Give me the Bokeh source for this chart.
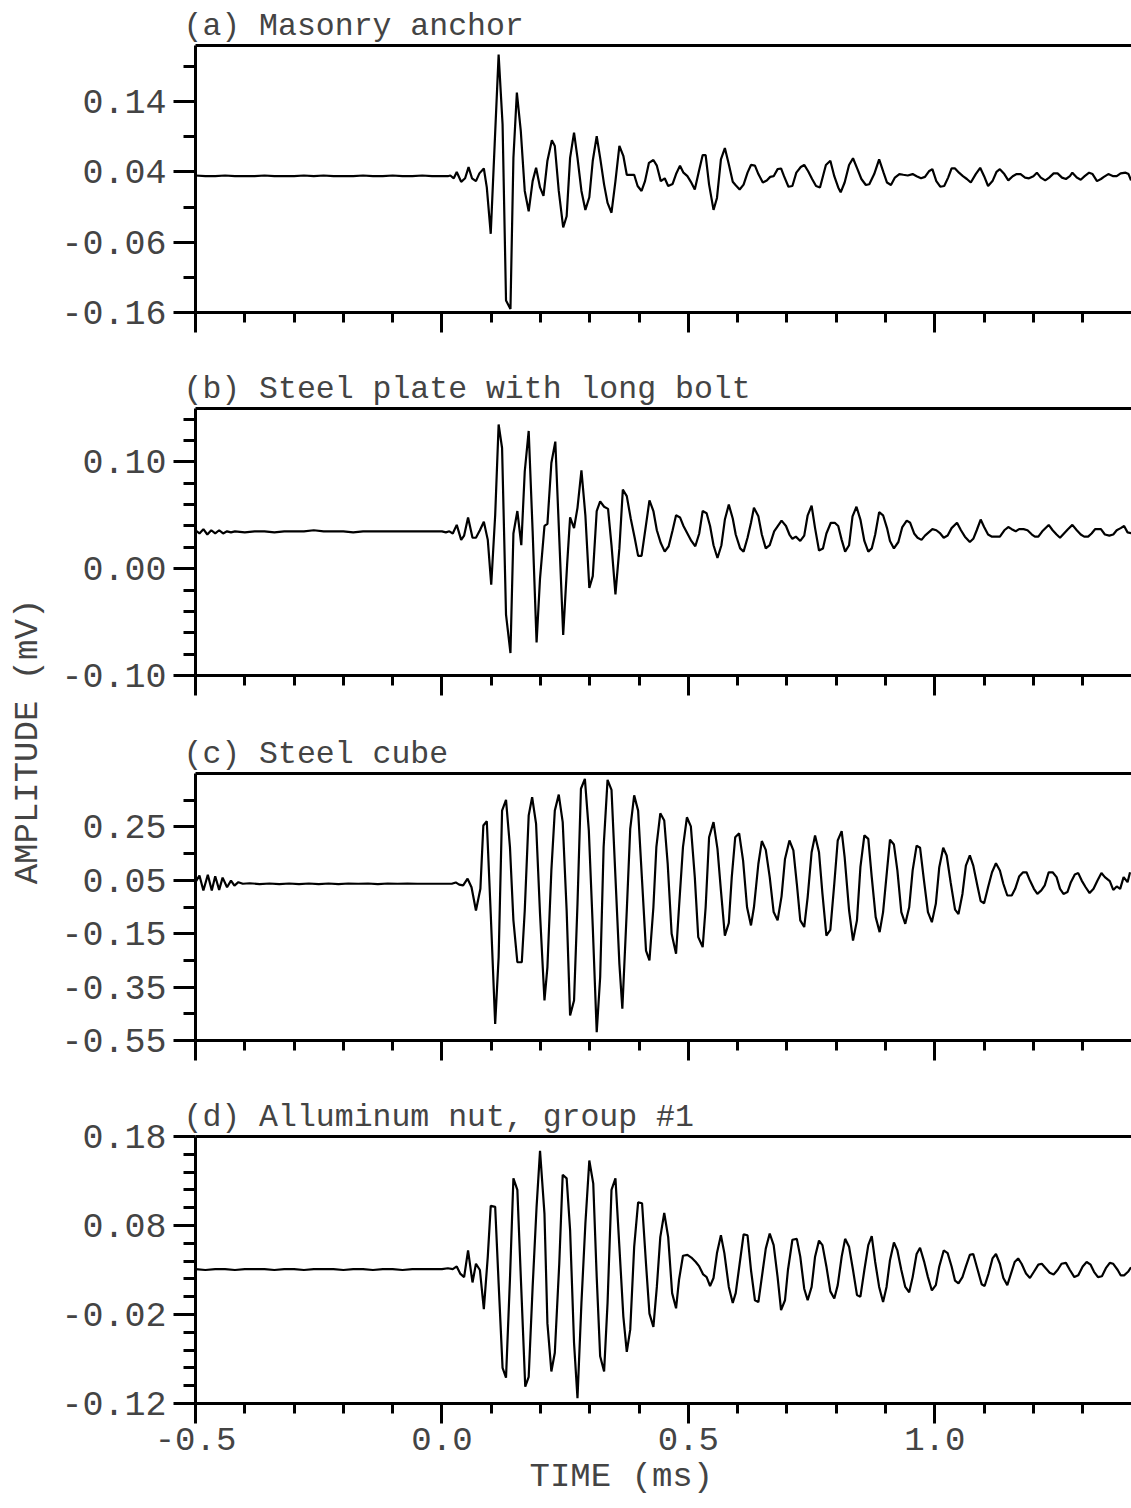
from bokeh.plotting import figure
from bokeh.layouts import column, row
from bokeh.models import (FixedTicker, PrintfTickFormatter, LinearAxis, Range1d, Label, Title)
from bokeh.embed import file_html
from bokeh.resources import INLINE

FONT = "Liberation Mono"

# ---------------- data (time in ms, amplitude in mV) ----------------
T_A = [-0.500,-0.480,-0.460,-0.440,-0.420,-0.400,-0.380,-0.360,-0.340,-0.320,-0.300,-0.280,-0.260,-0.240,-0.220,-0.200,-0.180,-0.160,-0.140,-0.120,-0.100,-0.080,-0.060,-0.040,-0.020,0.000,
       0.012,0.017,0.024,0.030,0.039,0.047,0.054,0.061,0.069,0.076,0.085,0.091,0.099,0.107,0.115,0.123,0.130,0.139,0.145,0.152,0.160,0.168,0.176,0.184,0.191,0.199,0.206,0.214,0.223,0.229,0.237,0.246,0.253,0.260,0.268,0.275,0.283,0.291,0.299,0.306,0.314,0.321,0.329,0.336,0.344,0.352,0.360,0.368,0.375,0.383,0.390,0.397,0.405,0.412,0.420,0.429,0.436,0.444,0.452,0.459,0.468,0.475,0.483,0.490,0.498,0.505,0.513,0.521,0.529,0.535,0.542,0.551,0.558,0.566,0.574,0.582,0.590,0.596,0.604,0.612,0.620,0.627,0.635,0.642,0.651,0.659,0.666,0.673,0.681,0.688,0.694,0.703,0.711,0.719,0.728,0.735,0.743,0.751,0.759,0.767,0.773,0.779,0.788,0.796,0.804,0.809,0.817,0.826,0.834,0.843,0.851,0.860,0.867,0.877,0.887,0.896,0.903,0.911,0.919,0.928,0.936,0.945,0.955,0.963,0.972,0.980,0.988,0.995,1.003,1.011,1.019,1.027,1.034,1.041,1.049,1.057,1.065,1.073,1.083,1.092,1.100,1.108,1.117,1.125,1.132,1.141,1.149,1.158,1.166,1.174,1.183,1.191,1.200,1.207,1.215,1.224,1.232,1.241,1.249,1.258,1.266,1.274,1.279,1.288,1.296,1.304,1.313,1.320,1.329,1.337,1.343,1.352,1.362,1.369,1.377,1.387,1.393,1.398]
V_A = [0.035,0.034,0.034,0.035,0.034,0.034,0.034,0.035,0.034,0.034,0.034,0.035,0.034,0.035,0.034,0.034,0.034,0.035,0.034,0.034,0.035,0.034,0.034,0.035,0.034,0.034,
       0.034,0.035,0.031,0.040,0.026,0.031,0.047,0.031,0.027,0.038,0.045,0.018,-0.048,0.080,0.207,0.108,-0.143,-0.155,0.060,0.153,0.098,0.013,-0.016,0.027,0.046,0.018,0.006,0.056,0.085,0.077,0.013,-0.039,-0.023,0.060,0.096,0.060,0.013,-0.014,0.004,0.056,0.091,0.060,0.022,-0.004,-0.018,0.027,0.077,0.063,0.036,0.036,0.036,0.020,0.013,0.027,0.053,0.057,0.049,0.027,0.031,0.020,0.023,0.037,0.049,0.039,0.034,0.026,0.015,0.040,0.064,0.064,0.022,-0.014,0.003,0.058,0.074,0.051,0.026,0.021,0.015,0.022,0.039,0.050,0.049,0.037,0.025,0.028,0.033,0.034,0.044,0.045,0.034,0.019,0.020,0.039,0.047,0.050,0.041,0.030,0.020,0.018,0.034,0.050,0.056,0.034,0.018,0.011,0.025,0.050,0.0595,0.044,0.030,0.0215,0.0225,0.037,0.058,0.039,0.025,0.0215,0.032,0.037,0.036,0.035,0.037,0.034,0.031,0.033,0.041,0.044,0.027,0.019,0.020,0.032,0.045,0.045,0.039,0.034,0.030,0.025,0.037,0.046,0.034,0.020,0.027,0.040,0.044,0.037,0.028,0.034,0.037,0.037,0.032,0.031,0.034,0.039,0.032,0.028,0.032,0.038,0.038,0.032,0.030,0.034,0.039,0.032,0.029,0.034,0.039,0.037,0.027,0.030,0.033,0.037,0.034,0.034,0.038,0.039,0.037,0.028]

T_B = [-0.500,-0.492,-0.484,-0.476,-0.468,-0.460,-0.452,-0.444,-0.436,-0.428,-0.420,-0.400,-0.380,-0.360,-0.340,-0.320,-0.300,-0.280,-0.260,-0.240,-0.220,-0.200,-0.180,-0.160,-0.140,-0.120,-0.100,-0.080,-0.060,-0.040,-0.020,0.000,0.008,0.015,
       0.022,0.030,0.039,0.045,0.053,0.062,0.069,0.077,0.085,0.093,0.100,0.108,0.115,0.122,0.130,0.139,0.145,0.153,0.161,0.168,0.176,0.184,0.192,0.199,0.208,0.214,0.222,0.230,0.238,0.246,0.254,0.260,0.268,0.275,0.283,0.291,0.299,0.306,0.314,0.321,0.329,0.337,0.344,0.352,0.360,0.367,0.375,0.383,0.391,0.398,0.405,0.414,0.421,0.429,0.436,0.444,0.452,0.460,0.468,0.475,0.483,0.490,0.498,0.506,0.514,0.522,0.529,0.537,0.544,0.551,0.559,0.567,0.574,0.582,0.590,0.596,0.605,0.612,0.620,0.627,0.633,0.642,0.649,0.657,0.665,0.674,0.689,0.698,0.705,0.711,0.718,0.727,0.735,0.742,0.750,0.757,0.765,0.773,0.780,0.789,0.797,0.804,0.811,0.818,0.826,0.833,0.841,0.849,0.857,0.865,0.872,0.879,0.887,0.895,0.903,0.909,0.917,0.926,0.934,0.943,0.950,0.958,0.965,0.973,0.980,0.995,1.003,1.011,1.018,1.026,1.034,1.045,1.053,1.061,1.071,1.078,1.085,1.093,1.100,1.108,1.116,1.125,1.132,1.141,1.149,1.156,1.164,1.171,1.180,1.188,1.197,1.203,1.210,1.218,1.231,1.239,1.247,1.254,1.262,1.270,1.279,1.288,1.296,1.303,1.311,1.318,1.325,1.337,1.345,1.354,1.362,1.369,1.377,1.384,1.391,1.400]
V_B = [0.036,0.033,0.037,0.032,0.036,0.033,0.036,0.033,0.035,0.034,0.035,0.034,0.035,0.035,0.034,0.035,0.035,0.035,0.036,0.035,0.035,0.035,0.034,0.035,0.035,0.035,0.035,0.035,0.035,0.035,0.035,0.035,0.034,0.035,
       0.033,0.041,0.027,0.031,0.048,0.029,0.029,0.036,0.044,0.027,-0.015,0.050,0.135,0.113,-0.043,-0.079,0.033,0.054,0.022,0.091,0.129,0.035,-0.069,-0.009,0.040,0.042,0.099,0.119,0.029,-0.062,0.004,0.048,0.038,0.057,0.092,0.050,-0.018,-0.007,0.054,0.063,0.058,0.056,0.022,-0.024,0.019,0.074,0.068,0.047,0.029,0.012,0.012,0.041,0.064,0.054,0.036,0.024,0.016,0.021,0.036,0.050,0.048,0.040,0.033,0.026,0.021,0.033,0.054,0.052,0.040,0.022,0.010,0.022,0.046,0.060,0.047,0.032,0.019,0.016,0.029,0.043,0.057,0.049,0.032,0.019,0.022,0.035,0.045,0.040,0.032,0.028,0.030,0.026,0.031,0.050,0.059,0.038,0.017,0.019,0.033,0.043,0.043,0.040,0.027,0.016,0.022,0.049,0.058,0.046,0.026,0.016,0.019,0.032,0.053,0.050,0.038,0.026,0.019,0.025,0.039,0.045,0.043,0.033,0.029,0.027,0.031,0.037,0.036,0.033,0.029,0.031,0.038,0.043,0.036,0.030,0.025,0.028,0.036,0.046,0.039,0.032,0.030,0.030,0.030,0.036,0.039,0.037,0.035,0.037,0.037,0.036,0.032,0.030,0.030,0.035,0.041,0.036,0.032,0.029,0.033,0.037,0.041,0.036,0.032,0.030,0.030,0.033,0.037,0.037,0.032,0.031,0.032,0.036,0.038,0.040,0.034,0.033]

T_C = [-0.500,-0.492,-0.484,-0.475,-0.467,-0.460,-0.452,-0.445,-0.436,-0.428,-0.421,-0.413,-0.404,-0.390,-0.370,-0.350,-0.330,-0.310,-0.290,-0.270,-0.250,-0.230,-0.210,-0.190,-0.170,-0.150,-0.130,-0.110,-0.090,-0.070,-0.050,-0.030,-0.010,0.010,0.020,
       0.028,0.035,0.043,0.052,0.060,0.069,0.078,0.084,0.091,0.099,0.108,0.115,0.122,0.130,0.138,0.145,0.153,0.162,0.168,0.176,0.183,0.191,0.199,0.208,0.214,0.222,0.229,0.237,0.245,0.253,0.260,0.268,0.275,0.282,0.290,0.298,0.306,0.314,0.321,0.328,0.336,0.344,0.352,0.360,0.366,0.375,0.382,0.390,0.398,0.406,0.414,0.421,0.429,0.435,0.443,0.451,0.458,0.466,0.475,0.481,0.489,0.497,0.505,0.513,0.520,0.529,0.535,0.542,0.551,0.559,0.566,0.574,0.582,0.588,0.595,0.603,0.611,0.619,0.627,0.633,0.642,0.649,0.657,0.665,0.673,0.681,0.689,
       0.696,0.705,0.713,0.720,0.727,0.735,0.742,0.750,0.757,0.765,0.772,0.780,0.788,0.796,0.803,0.811,0.817,0.826,0.834,0.842,0.849,0.857,0.865,0.872,0.880,0.888,0.895,0.903,0.909,0.917,0.924,0.932,0.940,0.948,0.955,0.963,0.970,0.978,0.986,0.994,1.002,1.009,1.017,1.024,1.032,1.041,1.048,1.056,1.063,1.071,1.078,1.087,1.093,1.100,1.108,1.116,1.124,1.132,1.139,1.147,1.156,1.163,1.171,1.179,1.186,1.193,1.201,1.208,1.216,1.223,1.231,1.239,1.247,1.254,1.261,1.269,1.276,1.284,1.291,1.298,1.306,1.314,1.322,1.330,1.338,1.345,1.355,1.362,1.369,1.376,1.383,1.391,1.396]
V_C = [0.043,0.068,0.012,0.071,0.012,0.065,0.014,0.060,0.024,0.049,0.030,0.043,0.037,0.039,0.036,0.038,0.036,0.038,0.036,0.038,0.036,0.038,0.036,0.038,0.037,0.038,0.036,0.038,0.037,0.038,0.037,0.037,0.037,0.037,0.037,
       0.042,0.034,0.031,0.056,0.024,-0.063,0.018,0.255,0.271,-0.076,-0.488,-0.238,0.311,0.351,0.174,-0.100,-0.257,-0.257,-0.063,0.293,0.361,0.261,-0.076,-0.400,-0.275,0.087,0.311,0.371,0.268,-0.063,-0.456,-0.400,-0.038,0.393,0.430,0.236,-0.125,-0.519,-0.313,0.174,0.426,0.389,0.062,-0.263,-0.431,-0.063,0.243,0.368,0.311,0.049,-0.213,-0.250,-0.051,0.174,0.301,0.274,0.112,-0.150,-0.225,-0.051,0.174,0.286,0.252,0.062,-0.163,-0.200,-0.051,0.211,0.268,0.168,0.012,-0.157,-0.110,0.062,0.211,0.226,0.124,-0.051,-0.119,-0.051,0.112,0.197,0.164,0.062,-0.069,-0.100,-0.010,
       0.130,0.199,0.162,0.037,-0.100,-0.125,-0.013,0.155,0.218,0.155,-0.001,-0.157,-0.136,0.037,0.199,0.234,0.137,-0.063,-0.176,-0.100,0.099,0.218,0.205,0.062,-0.088,-0.144,-0.069,0.087,0.202,0.184,0.087,-0.069,-0.113,-0.051,0.087,0.180,0.172,0.049,-0.069,-0.107,-0.038,0.099,0.172,0.143,0.043,-0.060,-0.076,-0.001,0.105,0.143,0.105,0.024,-0.028,-0.036,0.024,0.080,0.114,0.087,0.037,-0.007,-0.007,0.018,0.064,0.080,0.080,0.049,0.018,-0.001,0.012,0.031,0.080,0.080,0.062,0.018,-0.001,0.006,0.043,0.072,0.077,0.049,0.024,0.002,0.018,0.049,0.077,0.062,0.047,0.014,0.027,0.018,0.062,0.043,0.080]

T_D = [-0.500,-0.480,-0.460,-0.440,-0.420,-0.400,-0.380,-0.360,-0.340,-0.320,-0.300,-0.280,-0.260,-0.240,-0.220,-0.200,-0.180,-0.160,-0.140,-0.120,-0.100,-0.080,-0.060,-0.040,-0.020,0.000,0.012,
       0.022,0.030,0.037,0.045,0.053,0.062,0.069,0.077,0.085,0.093,0.099,0.108,0.115,0.123,0.130,0.138,0.145,0.153,0.160,0.169,0.176,0.184,0.192,0.199,0.208,0.214,0.222,0.229,0.238,0.245,0.253,0.260,0.268,0.275,0.283,0.291,0.299,0.307,0.314,0.321,0.329,0.336,0.344,0.352,0.360,0.368,0.375,0.382,0.390,0.398,0.406,0.414,0.421,0.429,0.436,0.443,0.451,0.459,0.467,0.475,0.481,0.489,0.498,0.506,0.515,0.522,0.530,0.537,0.544,0.551,0.558,0.566,0.573,0.582,0.590,0.596,0.604,0.612,0.620,0.627,0.635,0.642,0.651,0.657,0.665,0.673,0.681,0.688,
       0.696,0.702,0.711,0.720,0.727,0.735,0.742,0.750,0.757,0.765,0.772,0.780,0.788,0.796,0.803,0.811,0.818,0.826,0.834,0.842,0.849,0.857,0.865,0.872,0.879,0.887,0.895,0.902,0.909,0.917,0.924,0.932,0.940,0.948,0.955,0.963,0.970,0.978,0.986,0.994,1.002,1.009,1.018,1.026,1.034,1.041,1.048,1.056,1.063,1.071,1.078,1.085,1.095,1.101,1.109,1.117,1.124,1.132,1.139,1.147,1.154,1.162,1.169,1.176,1.185,1.193,1.201,1.210,1.217,1.225,1.233,1.241,1.249,1.257,1.266,1.274,1.283,1.291,1.300,1.308,1.316,1.323,1.331,1.339,1.347,1.355,1.362,1.371,1.377,1.384,1.392,1.398]
V_D = [0.031,0.030,0.031,0.031,0.030,0.031,0.031,0.031,0.030,0.031,0.031,0.030,0.031,0.031,0.031,0.030,0.031,0.031,0.030,0.031,0.031,0.030,0.031,0.031,0.031,0.031,0.032,
       0.031,0.034,0.026,0.022,0.052,0.016,0.037,0.030,-0.014,0.045,0.102,0.101,0.015,-0.080,-0.091,0.020,0.133,0.120,0.022,-0.101,-0.090,0.011,0.101,0.164,0.093,-0.030,-0.084,-0.063,0.037,0.137,0.133,0.075,-0.052,-0.114,-0.007,0.082,0.153,0.127,0.022,-0.067,-0.084,-0.007,0.120,0.133,0.056,-0.022,-0.062,-0.037,0.056,0.106,0.105,0.037,-0.019,-0.034,0.011,0.067,0.094,0.067,0.004,-0.013,0.019,0.046,0.047,0.044,0.039,0.034,0.025,0.022,0.012,0.021,0.049,0.069,0.049,0.011,-0.007,0.004,0.037,0.070,0.069,0.030,-0.004,-0.006,0.030,0.054,0.071,0.058,0.022,-0.015,
       -0.004,0.030,0.064,0.065,0.045,0.009,-0.004,0.011,0.045,0.063,0.058,0.034,0.006,-0.002,0.013,0.045,0.065,0.056,0.030,0.002,0.000,0.030,0.058,0.068,0.039,0.011,-0.006,0.011,0.041,0.061,0.052,0.030,0.011,0.005,0.022,0.048,0.055,0.040,0.022,0.007,0.013,0.034,0.052,0.049,0.034,0.018,0.015,0.022,0.034,0.047,0.048,0.034,0.014,0.012,0.026,0.043,0.048,0.037,0.021,0.013,0.025,0.039,0.043,0.037,0.026,0.021,0.028,0.036,0.037,0.032,0.027,0.025,0.030,0.037,0.038,0.030,0.022,0.024,0.034,0.039,0.036,0.028,0.022,0.023,0.032,0.038,0.037,0.030,0.024,0.024,0.028,0.033]

TITLES = ["(a) Masonry anchor", "(b) Steel plate with long bolt",
          "(c) Steel cube", "(d) Alluminum nut, group #1"]
Y_RANGES = [(-0.16, 0.22), (-0.10, 0.15), (-0.55, 0.45), (-0.12, 0.18)]
Y_MAJOR = [[-0.16, -0.06, 0.04, 0.14],
           [-0.10, 0.00, 0.10],
           [-0.55, -0.35, -0.15, 0.05, 0.25],
           [-0.12, -0.02, 0.08, 0.18]]
Y_MINOR = [[-0.11, -0.01, 0.09, 0.19],
           [-0.08, -0.06, -0.04, -0.02, 0.02, 0.04, 0.06, 0.08, 0.12, 0.14],
           [-0.45, -0.25, -0.05, 0.15, 0.35],
           [-0.10, -0.08, -0.06, -0.04, 0.00, 0.02, 0.04, 0.06, 0.10, 0.12, 0.14, 0.16]]
X_MAJOR = [-0.5, 0.0, 0.5, 1.0]
X_MINOR = [-0.4, -0.3, -0.2, -0.1, 0.1, 0.2, 0.3, 0.4, 0.6, 0.7, 0.8, 0.9, 1.1, 1.2, 1.3]
X_START, X_END = -0.5, 1.399
X_LABEL = "TIME (ms)"
Y_LABEL = "AMPLITUDE (mV)"

SERIES = [(T_A, V_A), (T_B, V_B), (T_C, V_C), (T_D, V_D)]
BOTTOMS = [51, 53, 51, 104]

LEFT_W = 50
FRAME_W = 936
panels = []
for i, ((t, v), title) in enumerate(zip(SERIES, TITLES)):
    last = (i == 3)
    p = figure(frame_width=FRAME_W, frame_height=267,
               x_range=Range1d(X_START, X_END), y_range=Range1d(*Y_RANGES[i]),
               x_axis_type=None, y_axis_type=None,
               output_backend="svg", toolbar_location=None,
               min_border_left=195 - LEFT_W, min_border_right=0,
               min_border_top=45, min_border_bottom=BOTTOMS[i],
               outline_line_color=None, background_fill_color="white",
               border_fill_color="white", title=title)
    p.title.text_font = FONT
    p.title.text_font_size = "31.5px"
    p.title.text_font_style = "normal"
    p.title.align = "left"
    p.title.offset = -12
    p.title.standoff = 4

    # left axis
    ya = LinearAxis(ticker=FixedTicker(ticks=Y_MAJOR[i], minor_ticks=Y_MINOR[i]),
                    formatter=PrintfTickFormatter(format="%.2f"))
    ya.axis_line_width = 3
    ya.major_tick_line_width = 3
    ya.minor_tick_line_width = 3
    ya.major_tick_out = 22
    ya.major_tick_in = 0
    ya.minor_tick_out = 12
    ya.minor_tick_in = 0
    ya.major_label_text_font = FONT
    ya.major_label_text_font_size = "35px"
    ya.major_label_standoff = 7
    p.add_layout(ya, "left")

    # bottom axis
    xa = LinearAxis(ticker=FixedTicker(ticks=X_MAJOR, minor_ticks=X_MINOR),
                    formatter=PrintfTickFormatter(format="%.1f"))
    xa.axis_line_width = 3
    xa.major_tick_line_width = 3
    xa.minor_tick_line_width = 3
    xa.major_tick_out = 20
    xa.major_tick_in = 0
    xa.minor_tick_out = 10
    xa.minor_tick_in = 0
    xa.major_label_text_font = FONT
    if last:
        xa.major_label_text_font_size = "34px"
        xa.major_label_standoff = 4
    else:
        xa.major_label_text_font_size = "0px"
        xa.major_label_standoff = 0
        xa.major_label_overrides = {k: "" for k in X_MAJOR}
    p.add_layout(xa, "below")

    # top frame line
    ta = LinearAxis(ticker=FixedTicker(ticks=[]))
    ta.axis_line_width = 3
    ta.major_tick_out = 0
    ta.minor_tick_out = 0
    ta.major_tick_in = 0
    ta.minor_tick_in = 0
    ta.major_label_standoff = 0
    ta.major_label_text_font_size = "0px"
    p.add_layout(ta, "above")

    p.xgrid.visible = False
    p.ygrid.visible = False
    p.line(t, v, line_color="black", line_width=2.2)

    if last:
        xt = Title(text=X_LABEL, align="left", offset=334, standoff=6,
                   text_font=FONT, text_font_size="34px", text_font_style="normal")
        p.add_layout(xt, "below")
    panels.append(p)

lab = figure(width=LEFT_W, height=1508, x_range=Range1d(0, LEFT_W), y_range=Range1d(0, 1508),
             x_axis_type=None, y_axis_type=None, output_backend="svg",
             toolbar_location=None, outline_line_color=None, min_border=0)
lab.add_layout(Label(x=27, y=1508 - 741, text=Y_LABEL, angle=90, angle_units="deg",
                     text_font=FONT, text_font_size="34px", text_align="center",
                     text_baseline="middle"))

layout = row(lab, column(*panels))
open("out.html", "w").write(file_html(layout, INLINE))
